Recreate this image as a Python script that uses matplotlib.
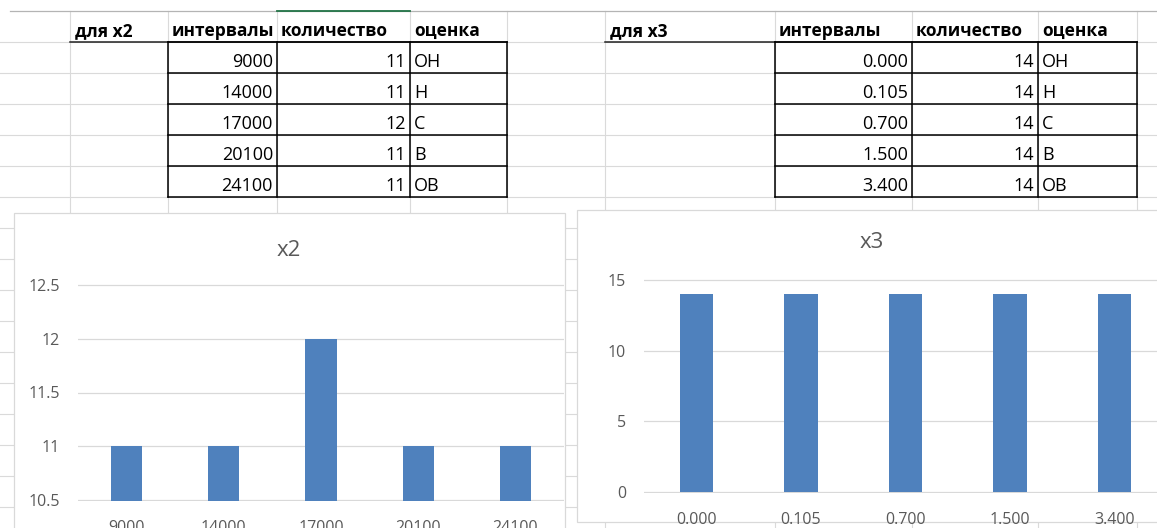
import matplotlib.pyplot as plt
from matplotlib.patches import Rectangle

W, H = 1157, 528

# table / chart data
x2_intervals = ["9000", "14000", "17000", "20100", "24100"]
x2_counts = [11, 11, 12, 11, 11]
x3_intervals = ["0.000", "0.105", "0.700", "1.500", "3.400"]
x3_counts = [14, 14, 14, 14, 14]
grades = ["ОН", "Н", "С", "В", "ОВ"]
headers = ["интервалы", "количество", "оценка"]

plt.rcParams['font.family'] = ['Open Sans', 'DejaVu Sans']

fig = plt.figure(figsize=(W / 100, H / 100), dpi=100)
bg = fig.add_axes([0, 0, 1, 1])
bg.set_xlim(0, W)
bg.set_ylim(H, 0)
bg.axis('off')

# spreadsheet grid
grid_c = '#dadada'
col_lines = [70, 168, 277, 410, 507, 605, 775, 912, 1038, 1137]
for y in range(42, H, 31):
    bg.plot([0, W], [y, y], color=grid_c, lw=0.8, zorder=1)
for x in col_lines:
    bg.plot([x, x], [11, H], color=grid_c, lw=0.8, zorder=1)
bg.plot([10, W], [11, 11], color='#b4b4b4', lw=0.9, zorder=1)
bg.plot([277, 410], [11, 11], color='#217346', lw=1.3, zorder=2)

row_h = 31
top = 42


def draw_table(label, cols, intervals, counts):
    c0, c1, c2, c3, c4 = cols
    bg.text(c0 + 5, top - 6, label, fontsize=12.5, weight='bold', zorder=3)
    for cx, h in zip([c1, c2, c3], headers):
        bg.text(cx + 4, top - 6, h, fontsize=12.5, weight='bold', zorder=3)
    # header underline
    bg.plot([c0, c4], [top, top], color='#222222', lw=1.1, zorder=3)
    n = len(intervals)
    for i in range(n):
        base = top + row_h * (i + 1) - 6
        bg.text(c2 - 4, base, intervals[i], fontsize=13, ha='right', zorder=3)
        bg.text(c3 - 4, base, str(counts[i]), fontsize=13, ha='right', zorder=3)
        bg.text(c3 + 4, base, grades[i], fontsize=13, ha='left', zorder=3)
    bottom = top + row_h * n
    for i in range(n + 1):
        y = top + row_h * i
        bg.plot([c1, c4], [y, y], color='black', lw=1.1, zorder=3)
    for x in [c1, c2, c3, c4]:
        bg.plot([x, x], [top, bottom], color='black', lw=1.1, zorder=3)


draw_table("для x2", [70, 168, 277, 410, 507], x2_intervals, x2_counts)
draw_table("для x3", [605, 775, 912, 1038, 1137], x3_intervals, x3_counts)

# chart frames
bg.add_patch(Rectangle((14, 213), 551, 340, fc='white', ec='#d9d9d9', lw=0.9, zorder=4))
bg.add_patch(Rectangle((577, 210), 620, 312, fc='white', ec='#d9d9d9', lw=0.9, zorder=4))
bg.text(289, 250, "x2", fontsize=16, color='#595959', ha='center', va='center', zorder=5)
bg.text(872, 243, "x3", fontsize=16, color='#595959', ha='center', va='center', zorder=5)


def bar_chart(l, t, r, b, cats, vals, ymin, ymax, yticks, ylabels):
    ax = fig.add_axes([l / W, (H - b) / H, (r - l) / W, (b - t) / H])
    ax.set_facecolor('none')
    ax.bar(range(len(cats)), vals, width=0.32, color='#4f81bd', zorder=2)
    ax.set_xlim(-0.5, len(cats) - 0.5)
    pad = (ymax - ymin) * 0.004
    ax.set_ylim(ymin - pad, ymax + pad)
    ax.set_yticks(yticks, ylabels)
    ax.set_xticks(range(len(cats)), cats)
    ax.grid(axis='y', color='#d9d9d9', lw=0.9)
    ax.set_axisbelow(True)
    for s in ax.spines.values():
        s.set_visible(False)
    ax.tick_params(length=0, labelsize=11.5, labelcolor='#595959')
    ax.tick_params(axis='y', pad=13)
    ax.tick_params(axis='x', pad=14)
    return ax


bar_chart(78, 284, 564, 501, x2_intervals, x2_counts, 10.5, 12.5,
          [10.5, 11, 11.5, 12, 12.5], ["10.5", "11", "11.5", "12", "12.5"])
bar_chart(644, 279, 1167, 493, x3_intervals, x3_counts, 0, 15,
          [0, 5, 10, 15], ["0", "5", "10", "15"])

fig.savefig('out.png', dpi=100)
